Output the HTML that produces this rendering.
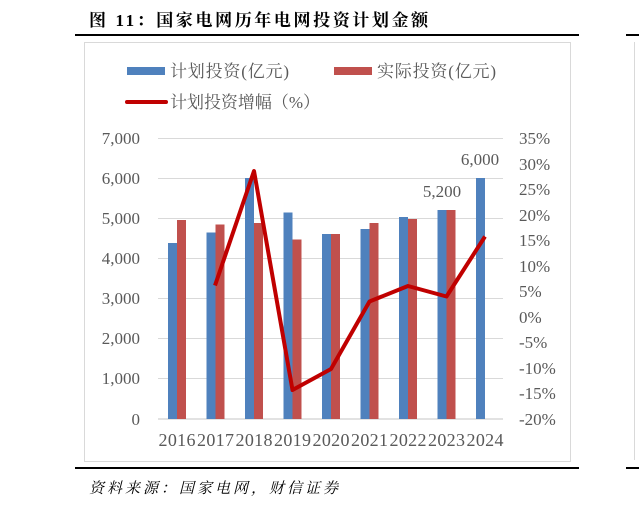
<!DOCTYPE html>
<html><head><meta charset="utf-8"><style>
body{margin:0;width:639px;height:508px;background:#fff;overflow:hidden;position:relative;font-family:"Liberation Serif","Noto Serif CJK SC",serif}
.t{position:absolute;left:89px;top:6px;font-size:17px;font-weight:bold;color:#000;font-family:"Liberation Serif","Noto Serif CJK SC",serif;letter-spacing:2.6px}
.src{position:absolute;left:89px;top:477px;font-size:15px;font-style:italic;color:#000;font-family:"Liberation Serif","Noto Serif CJK SC",serif;letter-spacing:3px}
</style></head><body>
<div class="t">图 11：国家电网历年电网投资计划金额</div>
<div style="position:absolute;left:75px;top:34px;width:504px;height:2px;background:#000"></div>
<div style="position:absolute;left:626px;top:34px;width:13px;height:2px;background:#000"></div>
<div style="position:absolute;left:75px;top:467px;width:504px;height:2px;background:#000"></div>
<div style="position:absolute;left:626px;top:467px;width:13px;height:2px;background:#000"></div>
<div style="position:absolute;left:84px;top:42px;width:485px;height:418px;border:1px solid #d9d9d9"></div>
<div style="position:absolute;left:634px;top:42px;width:5px;height:418px;border-left:1px solid #d9d9d9"></div>
<div class="src">资料来源：国家电网，财信证券</div>
<svg width="639" height="508" style="position:absolute;left:0;top:0" font-family="Liberation Serif, Noto Serif CJK SC, serif">
<g fill="#595959" font-size="17" font-family="Liberation Serif, Noto Serif CJK SC, serif">
<rect x="127" y="67" width="38" height="8" fill="#4f81bd"/>
<text x="170" y="77" textLength="119">计划投资(亿元)</text>
<rect x="334" y="67" width="38" height="8" fill="#c0504d"/>
<text x="377" y="77" textLength="119">实际投资(亿元)</text>
<line x1="127" y1="102" x2="166" y2="102" stroke="#c00000" stroke-width="4" stroke-linecap="round"/>
<text x="170" y="108" textLength="150">计划投资增幅（%）</text>
</g>
<g stroke="#d9d9d9" stroke-width="1">
<line x1="158" x2="503" y1="138.5" y2="138.5"/><line x1="158" x2="503" y1="178.5" y2="178.5"/>
<line x1="158" x2="503" y1="218.5" y2="218.5"/><line x1="158" x2="503" y1="258.5" y2="258.5"/>
<line x1="158" x2="503" y1="298.5" y2="298.5"/><line x1="158" x2="503" y1="338.5" y2="338.5"/>
<line x1="158" x2="503" y1="378.5" y2="378.5"/><line x1="158" x2="503" y1="419" y2="419" stroke-width="1.5"/>
</g>
<g fill="#595959" font-size="17" text-anchor="end">
<text x="140" y="144">7,000</text><text x="140" y="184">6,000</text><text x="140" y="224">5,000</text>
<text x="140" y="264">4,000</text><text x="140" y="304">3,000</text><text x="140" y="344">2,000</text>
<text x="140" y="384">1,000</text><text x="140" y="425">0</text>
</g>
<g fill="#595959" font-size="17">
<text x="519" y="144">35%</text><text x="519" y="170">30%</text><text x="519" y="195">25%</text>
<text x="519" y="221">20%</text><text x="519" y="246">15%</text><text x="519" y="272">10%</text>
<text x="519" y="297">5%</text><text x="519" y="323">0%</text><text x="519" y="348">-5%</text>
<text x="519" y="374">-10%</text><text x="519" y="399">-15%</text><text x="519" y="425">-20%</text>
</g>
<g fill="#595959" font-size="18" text-anchor="middle">
<text x="177" y="446" textLength="37">2016</text><text x="215.5" y="446" textLength="37">2017</text><text x="254" y="446" textLength="37">2018</text>
<text x="292.5" y="446" textLength="37">2019</text><text x="331" y="446" textLength="37">2020</text><text x="369.5" y="446" textLength="37">2021</text>
<text x="408" y="446" textLength="37">2022</text><text x="446.5" y="446" textLength="37">2023</text><text x="485" y="446" textLength="37">2024</text>
<text x="442" y="197" font-size="17">5,200</text><text x="480" y="165" font-size="17">6,000</text>
</g>
<g fill="#4f81bd">
<rect x="168" y="243" width="9" height="176"/>
<rect x="206.5" y="232.5" width="9" height="186.5"/>
<rect x="245" y="178" width="9" height="241"/>
<rect x="283.5" y="212.5" width="9" height="206.5"/>
<rect x="322" y="234" width="9" height="185"/>
<rect x="360.5" y="229" width="9" height="190"/>
<rect x="399" y="217" width="9" height="202"/>
<rect x="437.5" y="210" width="9" height="209"/>
<rect x="476" y="178" width="9" height="241"/>
</g>
<g fill="#c0504d">
<rect x="177" y="220" width="9" height="199"/>
<rect x="215.5" y="224.5" width="9" height="194.5"/>
<rect x="254" y="223" width="9" height="196"/>
<rect x="292.5" y="239.5" width="9" height="179.5"/>
<rect x="331" y="234" width="9" height="185"/>
<rect x="369.5" y="223" width="9" height="196"/>
<rect x="408" y="219" width="9" height="200"/>
<rect x="446.5" y="210" width="9" height="209"/>
</g>
<polyline fill="none" stroke="#c00000" stroke-width="4" stroke-linejoin="round" points="215,285.5 254,171 292.5,390 331,369 369.5,301.5 408,286 446.5,296.5 485,236.5"/>
</svg>
</body></html>
